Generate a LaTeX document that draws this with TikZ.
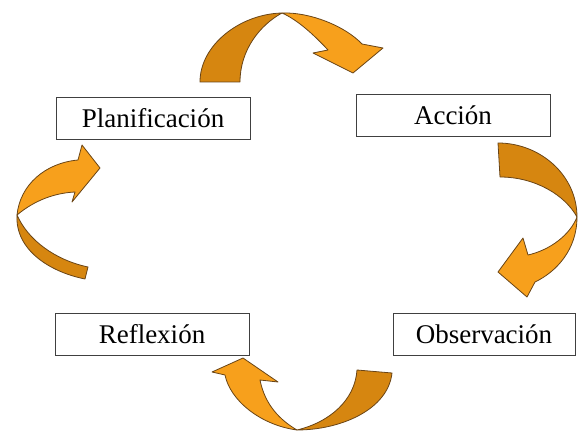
\documentclass[tikz,border=0pt]{standalone}
\usepackage{fontspec}
\setmainfont{Liberation Serif}

\definecolor{lightorange}{RGB}{247,160,28}
\definecolor{darkorange}{RGB}{214,134,16}
\definecolor{edgebrown}{RGB}{105,68,22}

\tikzset{
  stage/.style={draw=black!75, line width=0.9pt, fill=white, minimum width=194pt,
    minimum height=42pt, inner sep=0pt, font=\fontsize{27}{31}\selectfont},
  frontband/.style={fill=lightorange, draw=edgebrown, line width=0.8pt, line join=round},
  backband/.style={fill=darkorange, draw=edgebrown, line width=0.8pt, line join=round}
}

\begin{document}
\begin{tikzpicture}[x=1pt, y=-1pt]
    \useasboundingbox (0, 0) rectangle (579, 433);

    % the four stages
    \node[stage] (plan) at (153, 118) {Planificación};
    \node[stage] (accion) at (453, 115.5) {Acción};
    \node[stage] (reflex) at (152, 334) {Reflexión};
    \node[stage, minimum width=182pt] (observ) at (484, 334) {Observación};

    % top arrow
    \draw[backband] (200, 82) .. controls (200, 45) and (240, 14) .. (282, 13)
      .. controls (260, 25) and (240, 50) .. (240, 82) -- cycle;
    \draw[frontband] (282, 13) .. controls (310, 12) and (345, 26) .. (362, 44)
      -- (383, 48) -- (353, 73) -- (313, 53) -- (328, 50)
      .. controls (315, 36) and (298, 20) .. (282, 13) -- cycle;

    % right arrow
    \draw[backband] (498, 143) .. controls (540, 143) and (577, 175) .. (577, 217)
      .. controls (565, 195) and (535, 177) .. (500, 177) -- cycle;
    \draw[frontband] (577, 217) .. controls (577, 250) and (556, 272) .. (535, 282)
      -- (527, 297) -- (498, 272) -- (523, 238) -- (528, 255)
      .. controls (550, 250) and (570, 235) .. (577, 217) -- cycle;

    % bottom arrow
    \draw[backband] (297, 430) .. controls (340, 430) and (388, 410) .. (392, 373)
      -- (357, 370) .. controls (355, 400) and (330, 422) .. (297, 430) -- cycle;
    \draw[frontband] (243, 358) -- (278, 382) -- (260, 380)
      .. controls (265, 405) and (280, 420) .. (297, 430)
      .. controls (260, 425) and (230, 400) .. (225, 375) -- (212, 372) -- cycle;

    % left arrow
    \draw[backband] (17, 215) .. controls (15, 250) and (50, 272) .. (85, 279)
      -- (88, 267) .. controls (55, 260) and (28, 240) .. (17, 215) -- cycle;
    \draw[frontband] (100, 168) -- (82, 145) -- (78, 160)
      .. controls (45, 163) and (20, 185) .. (17, 215)
      .. controls (35, 200) and (55, 193) .. (75, 192) -- (72, 202) -- cycle;
\end{tikzpicture}
\end{document}
